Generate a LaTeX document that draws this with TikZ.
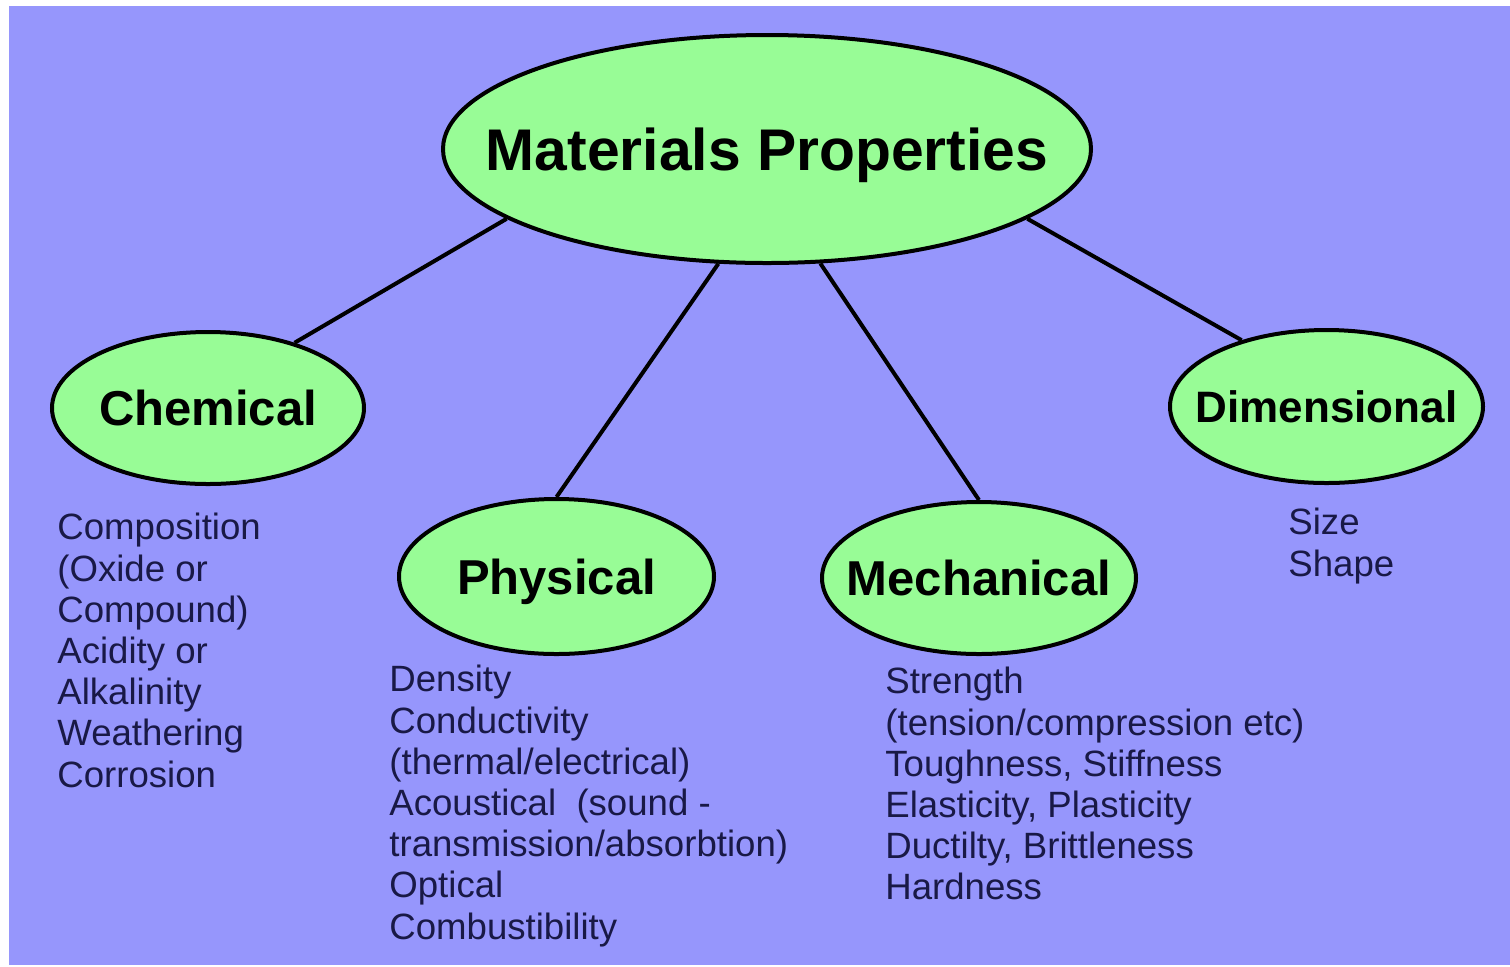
\documentclass[tikz,border=0pt]{standalone}
\usepackage{fontspec}
\setmainfont{Liberation Sans}
\usetikzlibrary{shapes.geometric}
\definecolor{bgblue}{RGB}{150,150,252}
\definecolor{bubblegreen}{RGB}{152,252,150}
\definecolor{listnavy}{RGB}{25,25,70}

\begin{document}
\begin{tikzpicture}[x=0.5pt, y=-0.5pt,
    bubble/.style={ellipse, draw, fill=bubblegreen, line width=2pt, inner xsep=-30pt, text depth=0pt, font=\bfseries\fontsize{24.5}{28}\selectfont},
    items/.style={anchor=north west, inner sep=0pt, align=left, text=listnavy, font=\fontsize{18.3}{20.6}\selectfont},
    link/.style={line width=2pt}]
      \fill[white] (0,0) rectangle (1510,966);
      \fill[bgblue] (9,6) rectangle (1510,965);
      \node [bubble, minimum width=324pt, minimum height=114pt, font=\bfseries\fontsize{29.4}{34}\selectfont] (main) at (767,149) {Materials Properties};
      \node [bubble, minimum width=156pt, minimum height=76pt] (chem) at (208,408) {Chemical};
      \node [bubble, minimum width=157.5pt, minimum height=77.5pt] (phys) at (556.5,576.5) {Physical};
      \node [bubble, minimum width=157pt, minimum height=76pt] (mech) at (979,578) {Mechanical};
      \node [bubble, minimum width=156.5pt, minimum height=76.5pt, font=\bfseries\fontsize{22}{26}\selectfont] (dim) at (1326.5,406.5) {Dimensional};
      \draw[link] (main.195) -- (chem.37);
      \draw[link] (main.247) -- (phys.north);
      \draw[link] (main.295) -- (mech.north);
      \draw[link] (main.345) -- (dim.142);
      \node [items] (chem-list) at (57,513) {Composition\\(Oxide or\\Compound)\\Acidity or\\Alkalinity\\Weathering\\Corrosion};
      \node [items] (phys-list) at (389,665) {Density\\Conductivity\\(thermal/electrical)\\Acoustical~~(sound -\\transmission/absorbtion)\\Optical\\Combustibility};
      \node [items] (mech-list) at (885,667) {Strength\\(tension/compression etc)\\Toughness, Stiffness\\Elasticity, Plasticity\\Ductilty, Brittleness\\Hardness};
      \node [items] (dim-list) at (1288,508) {Size\\Shape};
    \end{tikzpicture}
\end{document}
